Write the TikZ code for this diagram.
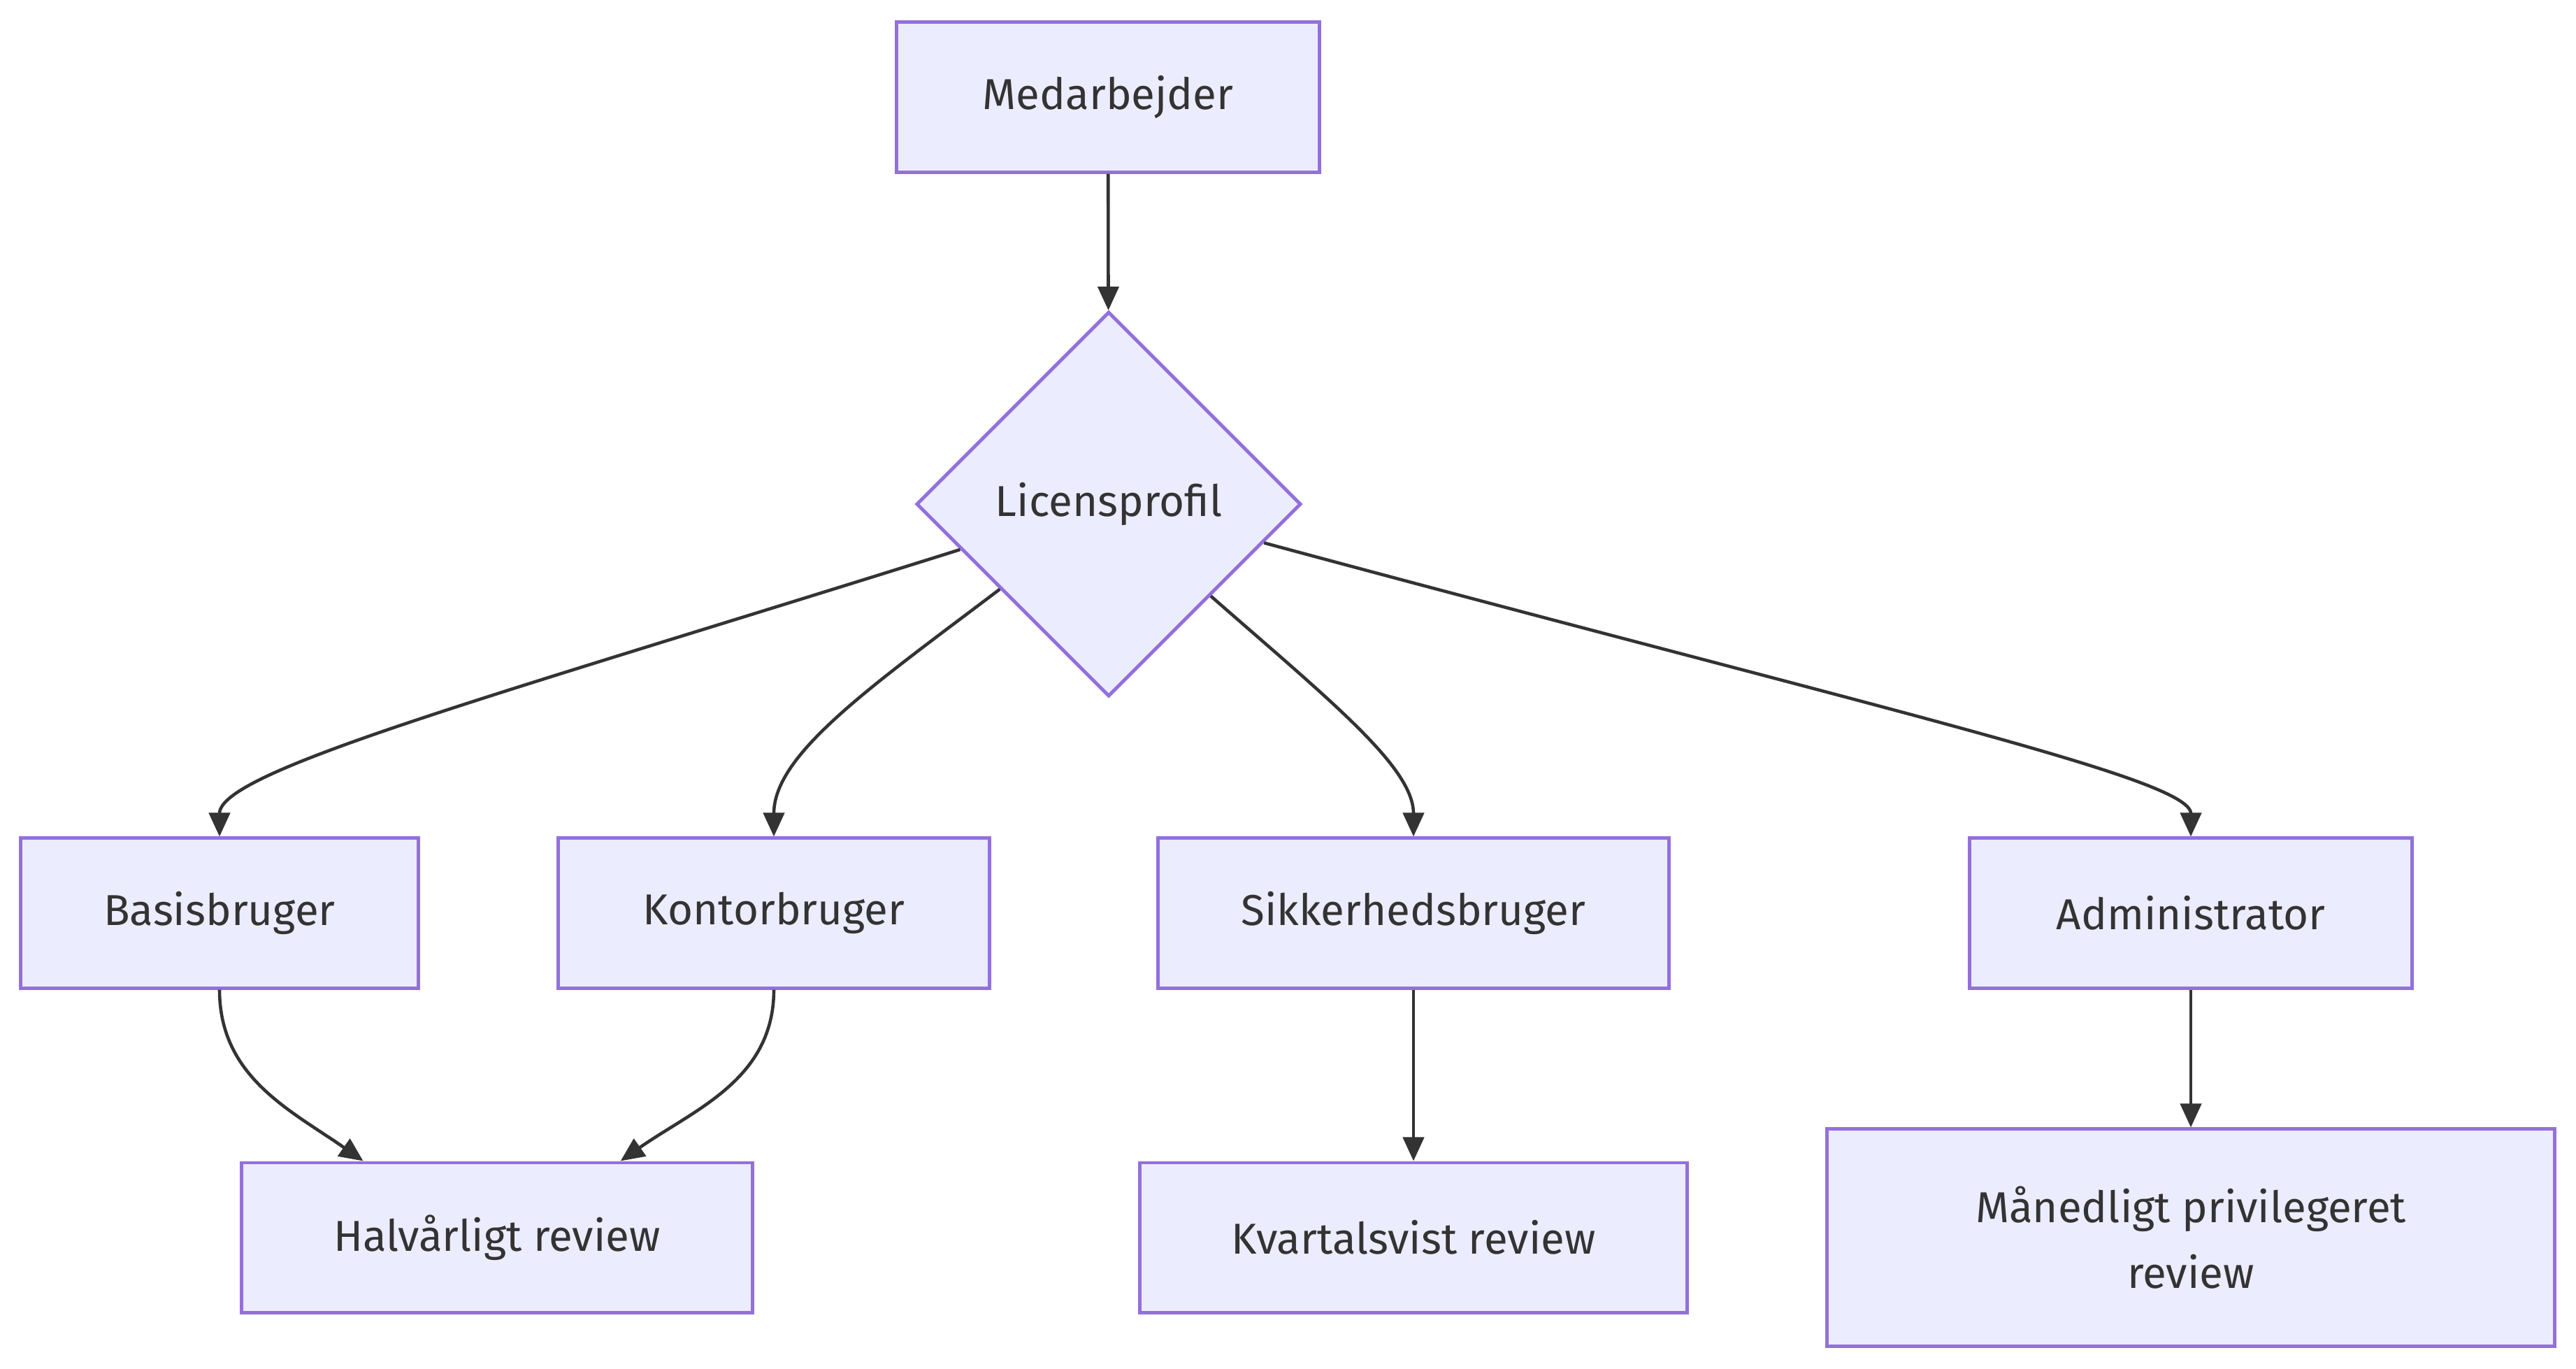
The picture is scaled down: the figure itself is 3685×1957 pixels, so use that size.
\documentclass[tikz,border=0pt]{standalone}
\usepackage{fontspec}
\setmainfont{Fira Sans}
\usepackage{tikz}
\usetikzlibrary{arrows.meta,positioning,calc,shapes.geometric}
\usepackage{xcolor}
\definecolor{nodefill}{RGB}{236,236,255}
\definecolor{nodeline}{RGB}{147,112,219}
\definecolor{edgeline}{RGB}{51,51,51}

\begin{document}
\begin{tikzpicture}[x=0.01cm, y=0.01cm,
    box/.style={draw=nodeline, fill=nodefill, line width=1.4pt, inner sep=0pt,
        minimum height=2.14cm, text=edgeline, align=center,
        font=\fontsize{17.6}{26.7}\selectfont},
    decision/.style={box, diamond, aspect=1, minimum width=5.5cm, minimum height=5.5cm},
    flow/.style={draw=edgeline, line width=1.3pt, -{Triangle[length=0.34cm, width=0.3cm]}}]
    \useasboundingbox (0,0) rectangle (3685,-1957);

    \node[box, minimum width=6.04cm] (medarb) at (1585,-139) {Medarbejder};
    \node[decision] (licens) at (1586,-721) {Licensprofil};

    \node[box, minimum width=5.69cm] (basis) at (314,-1306) {Basisbruger};
    \node[box, minimum width=6.16cm] (kontor) at (1107,-1306) {Kontorbruger};
    \node[box, minimum width=7.31cm] (sikker) at (2022,-1306) {Sikkerhedsbruger};
    \node[box, minimum width=6.32cm] (admin) at (3134,-1306) {Administrator};

    \node[box, minimum width=7.31cm] (halv) at (711,-1770) {Halvårligt review};
    \node[box, minimum width=7.83cm] (kvartal) at (2022,-1770) {Kvartalsvist review};
    \node[box, minimum width=10.41cm, minimum height=3.1cm] (maaned) at (3134,-1770)
        {Månedligt privilegeret\\review};

    \draw[flow] (medarb) -- (licens);
    \draw[flow] (licens.197) .. controls (705,-996) and ($(basis.north)+(0,94)$) .. (basis.north);
    \draw[flow] (licens.218) .. controls (1246,-982) and ($(kontor.north)+(0,118)$) .. (kontor.north);
    \draw[flow] (licens.318) .. controls (1904,-1003) and ($(sikker.north)+(0,99)$) .. (sikker.north);
    \draw[flow] (licens.346) .. controls (2703,-1018) and ($(admin.north)+(0,83)$) .. (admin.north);

    \draw[flow] (basis.south) to[out=-90, in=145] ($(halv.north west)!0.24!(halv.north east)$);
    \draw[flow] (kontor.south) to[out=-90, in=35] ($(halv.north west)!0.74!(halv.north east)$);
    \draw[flow] (sikker) -- (kvartal);
    \draw[flow] (admin) -- (maaned);
\end{tikzpicture}
\end{document}
